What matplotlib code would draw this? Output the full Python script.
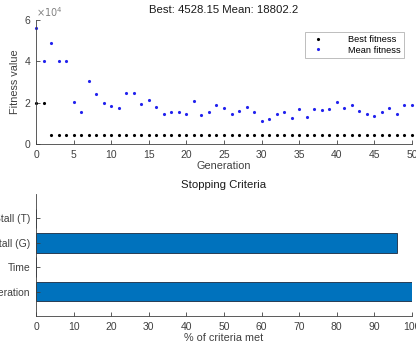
import matplotlib.pyplot as plt
import numpy as np

plt.rcParams['font.family'] = ['Liberation Sans', 'DejaVu Sans']

# fitness per generation
generations = list(range(51))
best_fitness = [19600, 19600] + [4528.15] * 49
mean_fitness = [56200, 40000, 48800, 40000, 40000, 20100, 15600, 30600, 24100, 19600,
                18500, 17300, 24800, 24600, 19400, 21400, 17800, 14400, 15400, 15700,
                14600, 20600, 13900, 15700, 18800, 17200, 14600, 15900, 17700, 15700,
                11000, 12300, 14600, 15700, 12800, 16900, 13000, 17000, 16500, 16700,
                20300, 17200, 18800, 16000, 14300, 13500, 15600, 17500, 14700, 18800,
                18802.2]

# stopping criteria
criteria = ['Generation', 'Time', 'Stall (G)', 'Stall (T)']
criteria_met = [100, 0, 96, 0]

axcol = '#404040'
fig = plt.figure(figsize=(4.16, 3.47), dpi=100)

# top: fitness
ax1 = fig.add_axes([36/416, 203/347, 376/416, 124/347])
ax1.plot(generations, best_fitness, '.', color='black', ms=2.5, label='Best fitness', clip_on=False)
ax1.plot(generations, mean_fitness, '.', color='#2222ee', ms=2.5, label='Mean fitness', clip_on=False)
ax1.set_xlim(0, 50)
ax1.set_ylim(0, 60000)
ax1.set_xticks(range(0, 51, 5))
ax1.set_yticks([0, 20000, 40000, 60000])
ax1.set_yticklabels(['0', '2', '4', '6'])
ax1.text(0.0, 1.01, r'$\times10^4$', transform=ax1.transAxes, fontsize=7, color='#808080',
         ha='left', va='bottom')
ax1.set_title('Best: %.2f Mean: %.1f' % (best_fitness[-1], mean_fitness[-1]),
              fontsize=8.2, pad=5, color='#1a1a1a')
ax1.set_xlabel('Generation', fontsize=7.8, color=axcol, labelpad=1)
ax1.set_ylabel('Fitness value', fontsize=7.8, color=axcol, labelpad=3)
leg = ax1.legend(loc='upper right', bbox_to_anchor=(0.99, 0.94), fontsize=6.7, frameon=True,
                 fancybox=False, edgecolor='#a0a0a0', handletextpad=2.2, borderpad=0.35,
                 labelspacing=0.15, markerscale=1.0, handlelength=2.0)
leg.get_frame().set_linewidth(0.6)

# bottom: stopping criteria
ax2 = fig.add_axes([36/416, 31/347, 376/416, 122/347])
ypos = np.arange(1, len(criteria) + 1)
ax2.barh(ypos, criteria_met, height=0.8, color='#0072BD', edgecolor='#1a2a40', linewidth=0.6)
ax2.set_xlim(0, 100)
ax2.set_ylim(0, 5)
ax2.set_xticks(range(0, 101, 10))
ax2.set_yticks(ypos)
ax2.set_yticklabels(criteria)
ax2.set_title('Stopping Criteria', fontsize=8.2, pad=4, color='#1a1a1a')
ax2.set_xlabel('% of criteria met', fontsize=7.8, color=axcol, labelpad=1)

for ax in (ax1, ax2):
    for s in ('top', 'right'):
        ax.spines[s].set_visible(False)
    for s in ('left', 'bottom'):
        ax.spines[s].set_color(axcol)
        ax.spines[s].set_linewidth(0.6)
    ax.tick_params(direction='in', length=3, width=0.6, colors=axcol, labelsize=7.5, pad=4)

fig.savefig('out.png', dpi=100)
